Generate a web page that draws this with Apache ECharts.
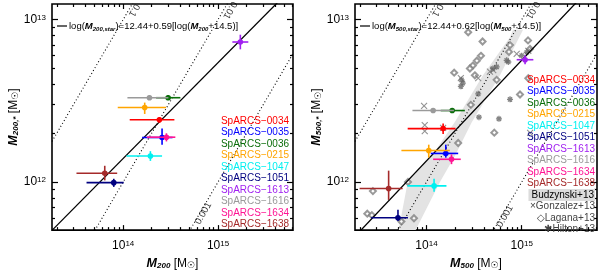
<!DOCTYPE html>
<html><head><meta charset="utf-8">
<script src="https://cdn.jsdelivr.net/npm/echarts@6/dist/echarts.min.js"></script>
<style>html,body{margin:0;padding:0;background:#fff}#c{width:600px;height:275px}</style>
</head><body><div id="c"></div>
<script>
const FONT = '"Liberation Sans", Arial, sans-serif';
// ---- axis data (log10 units) ----
const xRange = [13.25, 15.79];
const yRange = [11.704, 13.096];
const xMajor = [14, 15];
const yMajor = [12, 13];
const minorMult = [2, 3, 4, 5, 6, 7, 8, 9];
const xDecades = [13, 14, 15];
const yDecades = [11, 12, 13];

// ---- clusters ----
const clusters = ['SpARCS−0034','SpARCS−0035','SpARCS−0036','SpARCS−0215','SpARCS−1047','SpARCS−1051','SpARCS−1613','SpARCS−1616','SpARCS−1634','SpARCS−1638'];
const clusterColors = ['#ff0000','#0000ff','#0a6e0a','#ffa500','#00f0f0','#000080','#a020f0','#9a9a9a','#ff1493','#a52a2a'];

// left panel: log M200, log M200,*
const logM200    = [14.382, 14.410, 14.474, 14.227, 14.287, 13.901, 15.235, 14.277, 14.456, 13.806];
const logM200Lo  = [14.069, 14.200, 14.347, 13.943, 14.035, 13.614, 15.151, 14.045, 14.250, 13.508];
const logM200Hi  = [14.540, 14.520, 14.603, 14.453, 14.410, 14.006, 15.319, 14.477, 14.550, 13.937];
const logMs200   = [12.383, 12.274, 12.519, 12.459, 12.160, 11.996, 12.862, 12.519, 12.276, 12.054];
const logMs200Lo = [12.365, 12.230, 12.505, 12.419, 12.130, 11.970, 12.817, 12.505, 12.250, 12.010];
const logMs200Hi = [12.400, 12.329, 12.535, 12.489, 12.190, 12.020, 12.907, 12.535, 12.300, 12.100];

// right panel: log M500, log M500,*
const logM500    = [14.175, 14.203, 14.270, 14.024, 14.080, 13.701, 15.035, 14.070, 14.263, 13.603];
const logM500Lo  = [13.803, 14.045, 14.150, 13.737, 13.800, 13.420, 14.947, 13.853, 14.070, 13.298];
const logM500Hi  = [14.305, 14.333, 14.403, 14.245, 14.210, 13.806, 15.122, 14.288, 14.360, 13.750];
const logMs500   = [12.329, 12.176, 12.440, 12.194, 11.976, 11.780, 12.753, 12.440, 12.140, 11.960];
const logMs500Lo = [12.295, 12.150, 12.425, 12.150, 11.940, 11.760, 12.725, 12.425, 12.110, 11.890];
const logMs500Hi = [12.360, 12.230, 12.455, 12.230, 12.020, 11.830, 12.780, 12.455, 12.170, 12.070];

// fits: log M* = a + b (log M - 14.5)
const fitA = [12.44, 12.44];
const fitB = [0.59, 0.62];
// constant stellar fractions
const fractions = [0.1, 0.01, 0.001];
const fractionLabels = ['0.1', '0.01', '0.001'];
const fracLabelX = [[14.115, 15.125, 14.845], [14.115, 15.115, 14.824]];
const fracLabelY = [[13.058, 13.058, 11.807], [13.058, 13.058, 11.789]];

// Budzynski+13 band (right panel)
const bandLowX = [13.708, 13.803, 14.056, 14.298, 14.593, 14.877, 14.908];
const bandLowY = [11.704, 11.998, 12.160, 12.369, 12.657, 12.891, 12.938];
const bandHighX = [15.014, 14.772, 14.477, 14.298, 14.140, 13.887];
const bandHighY = [12.938, 12.657, 12.369, 12.160, 11.998, 11.704];

// Lagana+13 (diamonds)
const laganaX = [14.438, 14.589, 15.066, 14.877, 14.866, 14.572, 14.529, 14.487, 14.456, 14.508, 14.291, 14.737, 15.087, 14.982, 15.069, 14.466, 14.712, 14.333, 13.806, 13.438, 13.379, 13.427, 13.869, 13.737];
const laganaY = [12.922, 12.865, 12.872, 12.843, 12.801, 12.777, 12.747, 12.717, 12.699, 12.657, 12.673, 12.629, 12.819, 12.539, 12.639, 12.475, 12.304, 12.240, 12.000, 11.944, 11.805, 11.796, 11.777, 11.757];
// Gonzalez+13 (crosses)
const gonzX = [13.975, 13.982, 13.982, 14.175, 14.543, 14.666, 14.701, 14.947, 15.069, 15.088, 14.361];
const gonzY = [12.469, 12.350, 12.314, 12.334, 12.639, 12.679, 12.689, 12.789, 12.808, 12.303, 12.639];
// Hilton+13 (asterisks)
const hiltonX = [14.368, 14.382, 14.361, 14.543, 14.842, 14.859, 14.999, 15.053, 14.877, 14.551, 14.761, 14.698, 14.737];
const hiltonY = [12.629, 12.609, 12.589, 12.543, 12.749, 12.739, 12.778, 12.799, 12.509, 12.399, 12.389, 12.699, 12.709];

const rightExtraLegend = ['Budzynski+13', '×Gonzalez+13', '◇Lagana+13', '✱Hilton+13'];

// ---- helpers ----
function minorTicks(decades, range) {
  const out = [];
  decades.forEach(d => minorMult.forEach(m => {
    const v = d + Math.log10(m);
    if (v > range[0] && v < range[1]) out.push(v);
  }));
  return out;
}
const xMinor = minorTicks(xDecades, xRange);
const yMinor = minorTicks(yDecades, yRange);

const grids = [
  { left: 52, top: 4, width: 241, height: 232 },
  { left: 355, top: 4, width: 242, height: 232 }
];
const tickRich = {
  b: { fontSize: 12, fontFamily: FONT, color: '#000' },
  s: { fontSize: 8, fontFamily: FONT, color: '#000', verticalAlign: 'top', padding: [0, 0, 4, 0] }
};
const tickFmt = v => '{b|10}{s|' + Math.round(v) + '}';
const nameRich = {
  m: { fontSize: 12.5, fontFamily: FONT, fontStyle: 'italic', fontWeight: 'bold', color: '#000' },
  n: { fontSize: 12, fontFamily: FONT, color: '#000' },
  s: { fontSize: 8, fontFamily: FONT, fontStyle: 'italic', fontWeight: 'bold', color: '#000', verticalAlign: 'bottom', padding: [5, 0, 0, 0] },
  sun: { fontSize: 9, fontFamily: '"DejaVu Sans"', color: '#000', verticalAlign: 'bottom', padding: [4, 0, 0, 0] }
};
const xNames = ['{m|M}{s|200} {n|[M}{sun|☉}{n|]}', '{m|M}{s|500} {n|[M}{sun|☉}{n|]}'];
const yNames = ['{m|M}{s|200,*} {n|[M}{sun|☉}{n|]}', '{m|M}{s|500,*} {n|[M}{sun|☉}{n|]}'];

const xAxes = [], yAxes = [];
grids.forEach((g, gi) => {
  const base = { type: 'value', gridIndex: gi, min: xRange[0], max: xRange[1], splitLine: { show: false }, axisLine: { show: false } };
  xAxes.push(Object.assign({}, base, {
    position: 'bottom',
    axisTick: { show: true, inside: true, length: 5, customValues: xMajor, lineStyle: { color: '#000', width: 1.2 } },
    axisLabel: { show: true, customValues: xMajor, formatter: tickFmt, rich: tickRich, margin: 10 },
    name: xNames[gi], nameLocation: 'middle', nameGap: 24,
    nameTextStyle: { rich: nameRich }
  }));
  xAxes.push(Object.assign({}, base, { position: 'bottom',
    axisTick: { show: true, inside: true, length: 3, customValues: xMinor, lineStyle: { color: '#000', width: 1.2 } },
    axisLabel: { show: false } }));
  xAxes.push(Object.assign({}, base, { position: 'top',
    axisTick: { show: true, inside: true, length: 5, customValues: xMajor, lineStyle: { color: '#000', width: 1.2 } },
    axisLabel: { show: false } }));
  xAxes.push(Object.assign({}, base, { position: 'top',
    axisTick: { show: true, inside: true, length: 3, customValues: xMinor, lineStyle: { color: '#000', width: 1.2 } },
    axisLabel: { show: false } }));

  const ybase = { type: 'value', gridIndex: gi, min: yRange[0], max: yRange[1], splitLine: { show: false }, axisLine: { show: false } };
  yAxes.push(Object.assign({}, ybase, {
    position: 'left',
    axisTick: { show: true, inside: true, length: 6, customValues: yMajor, lineStyle: { color: '#000', width: 1.2 } },
    axisLabel: { show: true, customValues: yMajor, formatter: tickFmt, rich: tickRich, margin: 6 },
    name: yNames[gi], nameLocation: 'middle', nameGap: 31, nameRotate: 90,
    nameTextStyle: { rich: nameRich }
  }));
  yAxes.push(Object.assign({}, ybase, { position: 'left',
    axisTick: { show: true, inside: true, length: 3, customValues: yMinor, lineStyle: { color: '#000', width: 1.2 } },
    axisLabel: { show: false } }));
  yAxes.push(Object.assign({}, ybase, { position: 'right',
    axisTick: { show: true, inside: true, length: 6, customValues: yMajor, lineStyle: { color: '#000', width: 1.2 } },
    axisLabel: { show: false } }));
  yAxes.push(Object.assign({}, ybase, { position: 'right',
    axisTick: { show: true, inside: true, length: 3, customValues: yMinor, lineStyle: { color: '#000', width: 1.2 } },
    axisLabel: { show: false } }));
});

function errItem(params, api) {
  const v = i => api.value(i);
  const c = api.coord([v(0), v(1)]);
  const xl = api.coord([v(2), v(1)]), xh = api.coord([v(3), v(1)]);
  const yl = api.coord([v(0), v(4)]), yh = api.coord([v(0), v(5)]);
  const col = clusterColors[v(6)];
  return { type: 'group', children: [
    { type: 'line', shape: { x1: xl[0], y1: xl[1], x2: xh[0], y2: xh[1] }, style: { stroke: col, lineWidth: 1.6 } },
    { type: 'line', shape: { x1: yl[0], y1: yl[1], x2: yh[0], y2: yh[1] }, style: { stroke: col, lineWidth: 1.6 } },
    { type: 'circle', shape: { cx: c[0], cy: c[1], r: 2.8 }, style: { fill: col } }
  ] };
}

const series = [];
const panelData = [
  [logM200, logMs200, logM200Lo, logM200Hi, logMs200Lo, logMs200Hi],
  [logM500, logMs500, logM500Lo, logM500Hi, logMs500Lo, logMs500Hi]
];
[0, 1].forEach(p => {
  const axIdx = { xAxisIndex: p * 4, yAxisIndex: p * 4 };
  // fit line
  series.push(Object.assign({ type: 'line', z: 4, symbol: 'none', silent: true, clip: true,
    lineStyle: { color: '#000', width: 1.3 },
    data: xRange.map(x => [x, fitA[p] + fitB[p] * (x - 14.5)]) }, axIdx));
  // constant fraction lines
  fractions.forEach(f => {
    series.push(Object.assign({ type: 'line', z: 3, symbol: 'none', silent: true, clip: true,
      lineStyle: { color: '#000', width: 1.1, type: [1, 2.4] },
      data: xRange.map(x => [x, x + Math.log10(f)]) }, axIdx));
  });
  // fraction labels
  series.push(Object.assign({ type: 'scatter', z: 4, symbolSize: 0, silent: true,
    data: fractionLabels.map((t, i) => ({ name: t, value: [fracLabelX[p][i], fracLabelY[p][i]],
      label: { show: true, position: 'inside', formatter: t, rotate: i === 2 ? 60 : -120,
        fontSize: 9.5, fontFamily: FONT, color: '#000' } })) }, axIdx));
  if (p === 1) {
    // Budzynski band
    series.push(Object.assign({ type: 'custom', z: 1, silent: true,
      data: [[bandLowX[0], bandLowY[0]]],
      renderItem: (params, api) => {
        const pts = [];
        bandLowX.forEach((x, i) => pts.push(api.coord([x, bandLowY[i]])));
        bandHighX.forEach((x, i) => pts.push(api.coord([x, bandHighY[i]])));
        return { type: 'polygon', shape: { points: pts }, style: { fill: '#e3e3e3' } };
      } }, axIdx));
    series.push(Object.assign({ type: 'scatter', z: 3, symbol: 'emptyDiamond', symbolSize: 6,
      itemStyle: { color: '#808080', borderWidth: 1 },
      data: laganaX.map((x, i) => [x, laganaY[i]]) }, axIdx));
    series.push(Object.assign({ type: 'scatter', z: 3, symbol: 'path://M0,0L10,10M10,0L0,10', symbolSize: 6,
      itemStyle: { color: 'none', borderColor: '#777', borderWidth: 1.1 },
      data: gonzX.map((x, i) => [x, gonzY[i]]) }, axIdx));
    series.push(Object.assign({ type: 'scatter', z: 3, symbol: 'path://M5,0L5,10M0,5L10,5M1.5,1.5L8.5,8.5M8.5,1.5L1.5,8.5', symbolSize: 6,
      itemStyle: { color: 'none', borderColor: '#666', borderWidth: 1.3 },
      data: hiltonX.map((x, i) => [x, hiltonY[i]]) }, axIdx));
  }
  const d = panelData[p];
  series.push(Object.assign({ type: 'custom', z: 6, renderItem: errItem,
    data: clusters.map((c, i) => [d[0][i], d[1][i], d[2][i], d[3][i], d[4][i], d[5][i], i]) }, axIdx));
});

// ---- graphic texts: equations and legends ----
const eqRich = {
  n: { fontSize: 9.5, fontFamily: FONT, color: '#000', lineHeight: 12 },
  m: { fontSize: 9.5, fontFamily: FONT, fontStyle: 'italic', fontWeight: 'bold', color: '#000', lineHeight: 12 },
  s: { fontSize: 6, fontFamily: FONT, fontStyle: 'italic', fontWeight: 'bold', color: '#000', verticalAlign: 'bottom', lineHeight: 12, padding: [3, 0, 0, 0] }
};
const eqTexts = [
  '{n|log(}{m|M}{s|200,star}{n|)=12.44+0.59[log(}{m|M}{s|200}{n|+14.5)]}',
  '{n|log(}{m|M}{s|500,star}{n|)=12.44+0.62[log(}{m|M}{s|500}{n|+14.5)]}'
];
const graphic = [];
[0, 1].forEach(p => {
  const x0 = grids[p].left + 5;
  graphic.push({ type: 'line', shape: { x1: x0, y1: 26, x2: x0 + 10, y2: 26 }, style: { stroke: '#000', lineWidth: 1.2 }, z: 10 });
  graphic.push({ type: 'text', x: x0 + 12, y: 26, z: 10,
    style: { text: eqTexts[p], rich: eqRich, verticalAlign: 'middle', align: 'left' } });
});
const legRight = [289, 595];
const legTop = [120.8, 80];
const legStep = 11.5;
[0, 1].forEach(p => {
  clusters.forEach((c, i) => {
    graphic.push({ type: 'text', x: legRight[p], y: legTop[p] + i * legStep, z: 10,
      style: { text: c, fill: clusterColors[i], font: '10px ' + FONT, align: 'right', verticalAlign: 'middle' } });
  });
});
rightExtraLegend.forEach((t, j) => {
  const y = legTop[1] + (clusters.length + j) * legStep;
  graphic.push({ type: 'text', x: legRight[1], y: y, z: 10,
    style: { text: t, fill: j === 0 ? '#000' : '#444', font: '10px ' + FONT, align: 'right', verticalAlign: 'middle',
      backgroundColor: j === 0 ? '#dcdcdc' : null, padding: j === 0 ? [1, 1, 1, 3] : 0 } });
});

const chart = echarts.init(document.getElementById('c'), null, { renderer: 'canvas' });
chart.setOption({
  animation: false,
  backgroundColor: '#fff',
  grid: grids.map(g => Object.assign({ show: true, borderColor: '#000', borderWidth: 1.6, backgroundColor: 'transparent', containLabel: false }, g)),
  xAxis: xAxes,
  yAxis: yAxes,
  series: series,
  graphic: graphic
});
</script></body></html>
